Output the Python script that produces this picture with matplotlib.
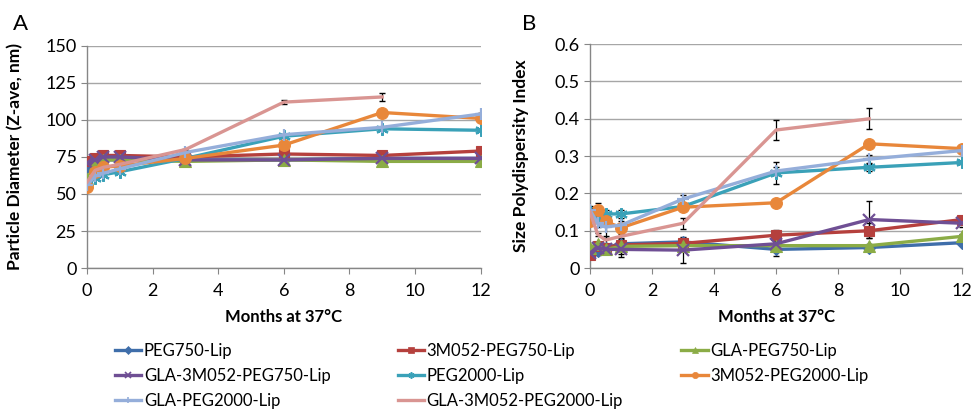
import numpy as np
import matplotlib.pyplot as plt

plt.rcParams['font.family'] = ['Lato', 'DejaVu Sans']

months = [0, 0.25, 0.5, 1, 3, 6, 9, 12]

names = ["PEG750-Lip", "3M052-PEG750-Lip", "GLA-PEG750-Lip", "GLA-3M052-PEG750-Lip",
         "PEG2000-Lip", "3M052-PEG2000-Lip", "GLA-PEG2000-Lip", "GLA-3M052-PEG2000-Lip"]
colors = ["#3F6EAA", "#B5403D", "#8BAC46", "#6F4F94", "#3AA1B8", "#E8873A", "#95AEDA", "#D99592"]
# (6, 2, 0) is an asterisk, like Excel's star marker
markers = ["D", "s", "^", "x", (6, 2, 0), "o", "+", None]
msizes = [6, 7.5, 8.5, 8.5, 9, 8.5, 9, 0]

# Panel A: Z-average diameter (nm)
size_peg750 = [68, 72, 73, 73, 73, 73, 74, 74]
size_3m_peg750 = [72, 74, 76, 76, 75, 77, 76, 79]
size_gla_peg750 = [60, 70, 73, 73, 72, 73, 72, 72]
size_gla_3m_peg750 = [71, 73, 75, 75, 73, 73, 74, 74]
size_peg2000 = [56, 61, 63, 65, 74, 89, 94, 93]
size_3m_peg2000 = [55, 65, 68, 69, 74, 83, 105, 101]
size_gla_peg2000 = [56, 62, 64, 67, 78, 90, 95, 104]
size_gla_3m_peg2000 = [58, 66, 68, 70, 80, 112, 115.5, np.nan]

size_err = [0.5, 0.5, 0.5, 0.5, 0.5, 0.5, 0.5, 0.5]
size_err_pink = [0.5, 0.5, 0.5, 0.5, 0.5, 1.2, 2.5, 0]

# Panel B: polydispersity index
pdi_peg750 = [0.040, 0.045, 0.055, 0.065, 0.070, 0.050, 0.055, 0.068]
pdi_3m_peg750 = [0.035, 0.060, 0.055, 0.062, 0.066, 0.088, 0.100, 0.130]
pdi_gla_peg750 = [0.055, 0.065, 0.050, 0.058, 0.060, 0.060, 0.060, 0.085]
pdi_gla_3m_peg750 = [0.040, 0.055, 0.050, 0.050, 0.048, 0.065, 0.130, 0.120]
pdi_peg2000 = [0.150, 0.130, 0.145, 0.145, 0.165, 0.255, 0.270, 0.283]
pdi_3m_peg2000 = [0.125, 0.155, 0.125, 0.108, 0.163, 0.175, 0.333, 0.320]
pdi_gla_peg2000 = [0.155, 0.120, 0.110, 0.115, 0.185, 0.260, 0.292, 0.315]
pdi_gla_3m_peg2000 = [0.150, 0.090, 0.075, 0.085, 0.120, 0.370, 0.400, np.nan]

pdi_err_peg750 = [0.005, 0.01, 0.005, 0.005, 0.005, 0.018, 0.005, 0.005]
pdi_err_3m_peg750 = [0.005, 0.005, 0.005, 0.005, 0.005, 0.015, 0.02, 0.005]
pdi_err_gla_peg750 = [0.005, 0.005, 0.005, 0.02, 0.005, 0.005, 0.005, 0.005]
pdi_err_gla_3m_peg750 = [0.005, 0.005, 0.005, 0.02, 0.035, 0.005, 0.05, 0.01]
pdi_err_peg2000 = [0.01, 0.01, 0.01, 0.01, 0.005, 0.03, 0.01, 0.005]
pdi_err_3m_peg2000 = [0.01, 0.02, 0.01, 0.005, 0.005, 0.005, 0.005, 0.005]
pdi_err_gla_peg2000 = [0.01, 0.01, 0.03, 0.01, 0.01, 0.01, 0.01, 0.005]
pdi_err_gla_3m_peg2000 = [0.01, 0.005, 0.01, 0.005, 0.015, 0.026, 0.028, 0]

sizes = [size_peg750, size_3m_peg750, size_gla_peg750, size_gla_3m_peg750,
         size_peg2000, size_3m_peg2000, size_gla_peg2000, size_gla_3m_peg2000]
size_errs = [size_err] * 7 + [size_err_pink]
pdis = [pdi_peg750, pdi_3m_peg750, pdi_gla_peg750, pdi_gla_3m_peg750,
        pdi_peg2000, pdi_3m_peg2000, pdi_gla_peg2000, pdi_gla_3m_peg2000]
pdi_errs = [pdi_err_peg750, pdi_err_3m_peg750, pdi_err_gla_peg750, pdi_err_gla_3m_peg750,
            pdi_err_peg2000, pdi_err_3m_peg2000, pdi_err_gla_peg2000, pdi_err_gla_3m_peg2000]

fig = plt.figure(figsize=(9.72, 4.13), dpi=100)
axA = fig.add_axes([0.0895, 0.351, 0.405, 0.538])
axB = fig.add_axes([0.607, 0.351, 0.383, 0.542])


def style_axis(ax, ymax, ystep, ylabel):
    ax.set_xlim(0, 12)
    ax.set_ylim(0, ymax)
    ax.set_xticks(range(0, 13, 2))
    ax.set_yticks(np.arange(0, ymax + ystep / 2, ystep))
    ax.yaxis.grid(True, color="#A6A6A6", linewidth=1)
    ax.set_axisbelow(True)
    for s in ["top", "right"]:
        ax.spines[s].set_visible(False)
    for s in ["left", "bottom"]:
        ax.spines[s].set_color("#868686")
        ax.spines[s].set_linewidth(1)
    ax.tick_params(colors="#868686", labelcolor="black", labelsize=13, length=4)
    ax.tick_params(axis="x", pad=7)
    ax.set_xlabel("Months at 37°C", fontsize=12, fontweight="bold", labelpad=7)
    ax.set_ylabel(ylabel, fontsize=12.5, fontweight="bold")


def is_line_marker(m):
    return m in ("x", "+") or isinstance(m, tuple)


for i in range(8):
    axA.errorbar(months, sizes[i], yerr=size_errs[i], fmt="none", ecolor="black",
                 elinewidth=0.9, capsize=2.5, zorder=2)
    axB.errorbar(months, pdis[i], yerr=pdi_errs[i], fmt="none", ecolor="black",
                 elinewidth=0.9, capsize=2.5, zorder=2)
for i in range(8):
    for ax, data in ((axA, sizes[i]), (axB, pdis[i])):
        ax.plot(months, data, color=colors[i], linewidth=2.4,
                marker=markers[i], markersize=msizes[i],
                markeredgewidth=1.6 if is_line_marker(markers[i]) else 0.8,
                markeredgecolor=colors[i], label=names[i], zorder=3)

style_axis(axA, 150, 25, "Particle Diameter (Z-ave, nm)")
style_axis(axB, 0.6, 0.1, "Size Polydispersity Index")
axB.set_yticklabels(["0", "0.1", "0.2", "0.3", "0.4", "0.5", "0.6"])
axA.yaxis.set_label_coords(-0.163, 0.5)
axB.yaxis.set_label_coords(-0.163, 0.5)

fig.text(0.013, 0.927, "A", fontsize=16, va="baseline")
fig.text(0.537, 0.927, "B", fontsize=16, va="baseline")

# legend: three columns, rows read across
columns = [[0, 3, 6], [1, 4, 7], [2, 5]]
col_x = [0.118, 0.409, 0.701]
for cx, idx in zip(col_x, columns):
    handles = []
    for i in idx:
        h, = axA.plot([], [], color=colors[i], linewidth=2.4, marker=markers[i],
                      markersize=4.5 if markers[i] else 0,
                      markeredgewidth=1.2 if is_line_marker(markers[i]) else 0.5,
                      label=names[i])
        handles.append(h)
    fig.legend(handles=handles, labels=[names[i] for i in idx],
               loc="upper left", bbox_to_anchor=(cx, 0.169), frameon=False,
               fontsize=12, handlelength=1.6, handletextpad=0.15,
               labelspacing=0.53, borderpad=0, borderaxespad=0)

fig.savefig("out.png", dpi=100)
